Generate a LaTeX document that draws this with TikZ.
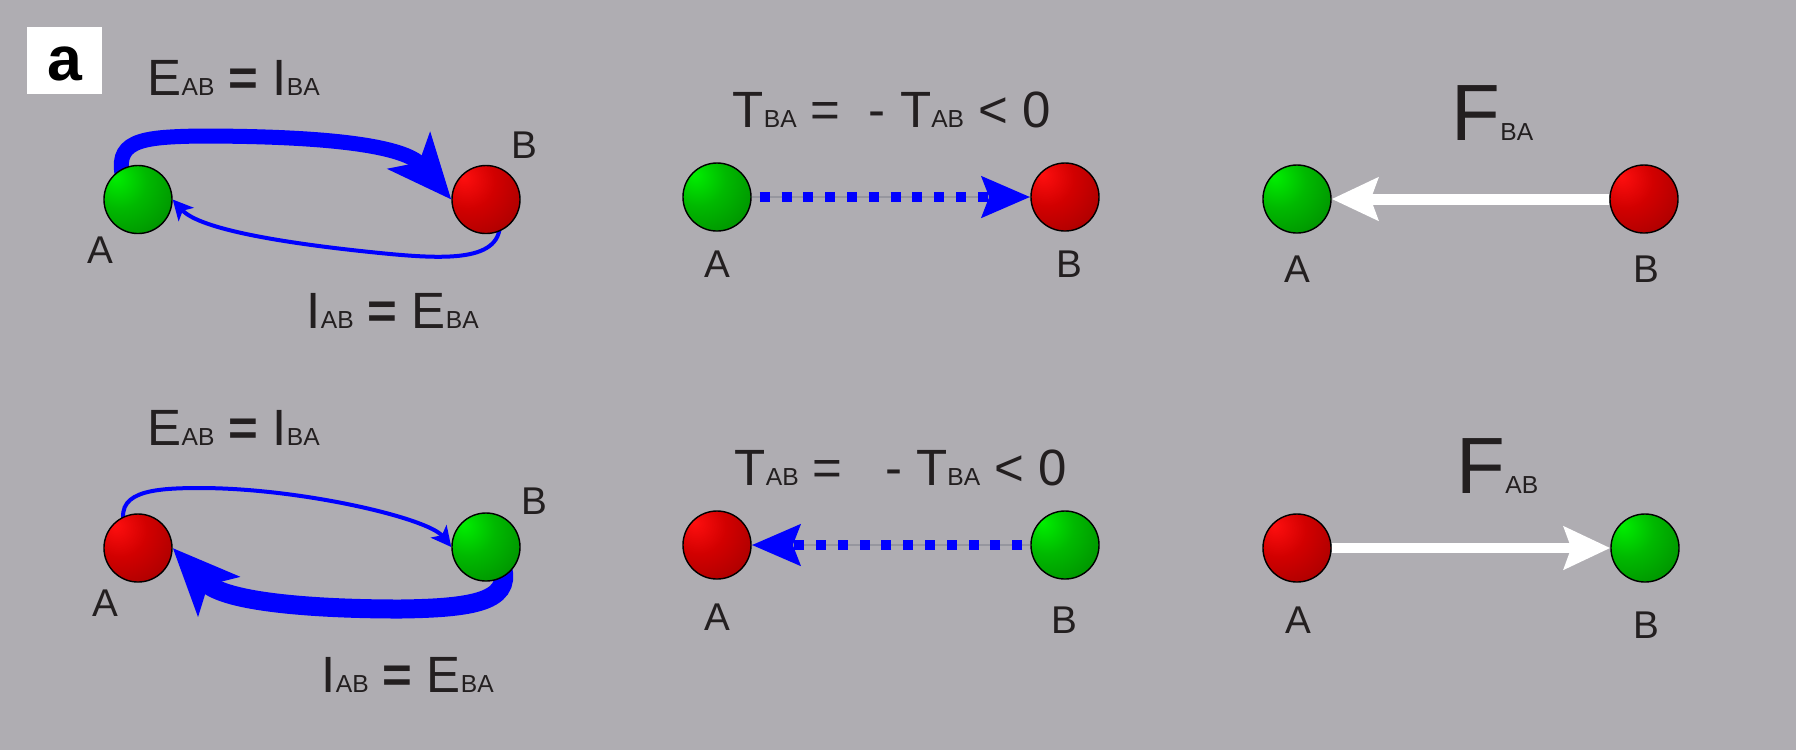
\documentclass[tikz,border=0pt]{standalone}
\usepackage{fontspec}
\setmainfont{Liberation Sans}
\usepackage{tikz}
\usetikzlibrary{arrows.meta,positioning,backgrounds}
\definecolor{bggray}{RGB}{175,173,178}
\definecolor{inkgray}{RGB}{35,31,32}
\definecolor{linkblue}{RGB}{0,0,255}
\definecolor{guidegray}{RGB}{150,150,158}
\definecolor{gA}{RGB}{0,240,0}
\definecolor{gB}{RGB}{0,185,0}
\definecolor{gC}{RGB}{0,135,0}
\definecolor{gD}{RGB}{0,88,0}
\definecolor{rA}{RGB}{255,15,15}
\definecolor{rB}{RGB}{210,0,0}
\definecolor{rC}{RGB}{160,0,0}
\definecolor{rD}{RGB}{108,0,0}
\pgfdeclareradialshading{greenball}{\pgfpoint{-17bp}{17bp}}{color(0bp)=(gA); color(20bp)=(gB); color(48bp)=(gC); color(74bp)=(gD); color(100bp)=(gD)}
\pgfdeclareradialshading{redball}{\pgfpoint{-17bp}{17bp}}{color(0bp)=(rA); color(20bp)=(rB); color(48bp)=(rC); color(74bp)=(rD); color(100bp)=(rD)}
\newcommand{\smallidx}[1]{{\fontsize{7pt}{8pt}\selectfont #1}}
\tikzstyle{ball}=[circle, draw=black, line width=0.4pt, minimum size=0.68cm, inner sep=0pt]
\tikzstyle{gball}=[ball, shading=greenball]
\tikzstyle{rball}=[ball, shading=redball]
\tikzstyle{lbl}=[font=\fontsize{11pt}{13pt}\selectfont, text=inkgray, inner sep=0pt]
\tikzstyle{eqn}=[font=\fontsize{14.5pt}{17pt}\selectfont, text=inkgray, inner sep=0pt, anchor=base west]
\tikzstyle{forcelbl}=[font=\fontsize{22.7pt}{26pt}\selectfont, text=inkgray, inner sep=0pt, anchor=base west]
\tikzstyle{thickloop}=[linkblue, line width=0.15cm, -{Stealth[length=0.64cm, width=0.55cm, inset=0.15cm]}]
\tikzstyle{thinloop}=[linkblue, line width=0.04cm, -{Stealth[length=0.2cm, width=0.2cm, inset=0.05cm]}]
\tikzstyle{dotarrow}=[linkblue, line width=0.1cm, dash pattern=on 0.1cm off 0.118cm, -{Stealth[length=0.48cm, width=0.40cm, inset=0.07cm]}]
\tikzstyle{guide}=[guidegray, line width=0.3pt]
\tikzstyle{forcearrow}=[white, line width=0.11cm, -{Stealth[length=0.46cm, width=0.42cm, inset=0.07cm]}]
\begin{document}
\begin{tikzpicture}[x=0.01cm, y=-0.01cm]

\begin{scope}[on background layer]
\fill[bggray] (0,0) rectangle (1796,750);
\end{scope}
\useasboundingbox (0,0) rectangle (1796,750);

\node[fill=white, minimum width=0.75cm, minimum height=0.67cm, inner sep=0pt] (tagbox) at (64.5,60.5) {};
\node[font=\fontsize{17.8pt}{20pt}\selectfont\bfseries, inner sep=0pt] (tag) at (64.5,63.5) {a};

% left column: exchange loops
\node[gball] (EA1) at (138,199.5) {};
\node[rball] (EB1) at (486,199.5) {};
\node[rball] (EA2) at (138,548) {};
\node[gball] (EB2) at (486,547) {};

\node[lbl] (EA1l) at (100,250) {A};
\node[lbl] (EB1l) at (524,145) {B};
\node[lbl] (EA2l) at (105,603) {A};
\node[lbl] (EB2l) at (534,501) {B};

\node[eqn] (E1top) at (147,95) {E\smallidx{AB} \textbf{=} I\smallidx{BA}};
\node[eqn] (E1bot) at (306,328) {I\smallidx{AB} \textbf{=} E\smallidx{BA}};
\node[eqn] (E2top) at (147,445) {E\smallidx{AB} \textbf{=} I\smallidx{BA}};
\node[eqn] (E2bot) at (321,692) {I\smallidx{AB} \textbf{=} E\smallidx{BA}};

% loops run under the balls
\begin{scope}[on background layer]
\coordinate (EA1s) at (124,182);
\coordinate (EB1s) at (499,215);
\coordinate (EA2s) at (126,530);
\coordinate (EB2s) at (500,560);
\draw[thickloop] (EA1s) .. controls (112,140) and (140,137) .. (200,136)
  .. controls (330,136) and (405,146) .. (EB1.west);
\draw[thinloop] (EB1s) .. controls (508,262) and (450,260) .. (380,253)
  .. controls (290,244) and (200,230) .. (EA1.east);
\draw[thinloop] (EA2s) .. controls (112,492) and (150,488) .. (200,488)
  .. controls (300,488) and (428,518) .. (EB2.west);
\draw[thickloop, line width=0.19cm, -{Stealth[length=0.66cm, width=0.56cm, inset=0.15cm]}] (EB2s) .. controls (516,600) and (480,608) .. (400,609)
  .. controls (320,609) and (225,603) .. (EA2.east);
\end{scope}

% middle column: dotted T arrows
\node[gball] (TA1) at (717,197) {};
\node[rball] (TB1) at (1065,197) {};
\node[rball] (TA2) at (717,545) {};
\node[gball] (TB2) at (1065,545) {};

\node[lbl] (TA1l) at (717,264) {A};
\node[lbl] (TB1l) at (1069,264) {B};
\node[lbl] (TA2l) at (717,617) {A};
\node[lbl] (TB2l) at (1064,620) {B};

\node[eqn] (T1) at (732,127) {T\smallidx{BA} =\ \ - T\smallidx{AB} < 0};
\node[eqn] (T2) at (734,485) {T\smallidx{AB} =\ \ \ - T\smallidx{BA} < 0};

\draw[guide] (TA1.east) -- (TB1.west);
\draw[dotarrow] ([xshift=0.08cm]TA1.east) -- (TB1.west);
\draw[guide] (TB2.west) -- (TA2.east);
\draw[dotarrow] ([xshift=-0.08cm]TB2.west) -- (TA2.east);

% right column: white F arrows
\node[gball] (FA1) at (1297,199) {};
\node[rball] (FB1) at (1644,199) {};
\node[rball] (FA2) at (1297,548) {};
\node[gball] (FB2) at (1645,548) {};

\node[lbl] (FA1l) at (1297,269) {A};
\node[lbl] (FB1l) at (1646,269) {B};
\node[lbl] (FA2l) at (1298,620) {A};
\node[lbl] (FB2l) at (1646,625) {B};

\node[forcelbl] (F1) at (1451,140) {F\smallidx{BA}};
\node[forcelbl] (F2) at (1456,493) {F\smallidx{AB}};

\draw[forcearrow] (FB1.west) -- (FA1.east);
\draw[forcearrow, line width=0.10cm] (FA2.east) -- (FB2.west);

\end{tikzpicture}
\end{document}
